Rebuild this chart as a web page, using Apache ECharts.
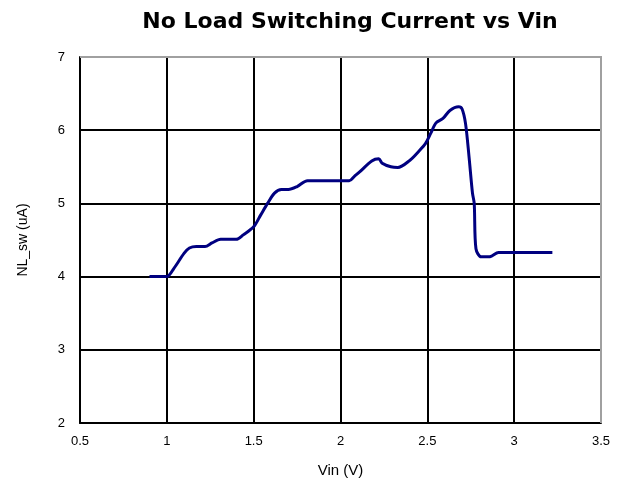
<!DOCTYPE html>
<html>
<head>
<meta charset="utf-8">
<script src="https://cdn.jsdelivr.net/npm/echarts@6/dist/echarts.min.js"></script>
<style>
  html, body { margin: 0; padding: 0; background: #fff; }
  #chart { width: 618px; height: 487px; }
</style>
</head>
<body>
<div id="chart"></div>
<script>
// Vin (V) and no-load switching current (uA)
var vin = [0.90, 1.00, 1.04, 1.10, 1.13, 1.17, 1.22, 1.26, 1.31, 1.40, 1.44, 1.50, 1.54, 1.58, 1.62, 1.66, 1.70, 1.75, 1.81,
  2.05, 2.08, 2.11, 2.18, 2.22, 2.24, 2.29, 2.33, 2.40, 2.45, 2.49, 2.52, 2.55, 2.59, 2.63, 2.68, 2.70, 2.72, 2.74,
  2.76, 2.77, 2.78, 2.81, 2.85, 2.87, 2.91, 3.22]
var current = [4.00, 4.00, 4.11, 4.32, 4.39, 4.41, 4.41, 4.46, 4.51, 4.51, 4.57, 4.68, 4.84, 5.00, 5.14, 5.19, 5.19, 5.23, 5.31,
  5.31, 5.37, 5.43, 5.58, 5.61, 5.55, 5.50, 5.49, 5.59, 5.71, 5.82, 5.96, 6.10, 6.16, 6.27, 6.32, 6.29, 6.09, 5.64,
  5.14, 5.00, 4.38, 4.27, 4.27, 4.28, 4.33, 4.33]

var chart = echarts.init(document.getElementById('chart'))
chart.setOption({
  animation: false,
  title: {
    text: 'No Load Switching Current vs Vin',
    left: 345,
    top: 6,
    textAlign: 'center',
    textStyle: { fontFamily: 'DejaVu Sans', fontWeight: 'bold', fontSize: 22, color: '#000' }
  },
  grid: { left: 80, right: 17, top: 57, bottom: 64 },
  xAxis: {
    type: 'value',
    min: 0.5,
    max: 3.5,
    interval: 0.5,
    name: 'Vin (V)',
    nameLocation: 'middle',
    nameGap: 40,
    nameTextStyle: { fontFamily: 'Liberation Sans', fontSize: 15, color: '#000' },
    axisLine: { lineStyle: { color: '#000', width: 2 } },
    axisTick: { show: false },
    axisLabel: { fontFamily: 'Liberation Sans', fontSize: 13, color: '#000', margin: 12 },
    splitLine: { lineStyle: { color: '#000', width: 2 } }
  },
  yAxis: {
    type: 'value',
    min: 2,
    max: 7,
    interval: 1,
    name: 'NL_sw (uA)',
    nameLocation: 'middle',
    nameGap: 50,
    nameTextStyle: { fontFamily: 'Liberation Sans', fontSize: 14, color: '#000' },
    axisLine: { lineStyle: { color: '#000', width: 2 } },
    axisTick: { show: false },
    axisLabel: { fontFamily: 'Liberation Sans', fontSize: 13, color: '#000', margin: 15 },
    splitLine: { lineStyle: { color: '#000', width: 2 } }
  },
  series: [
    {
      type: 'line',
      data: vin.map(function (v, i) { return [v, current[i]] }),
      showSymbol: false,
      smooth: 0.3,
      lineStyle: { color: '#000080', width: 3 }
    }
  ],
  graphic: [
    // lighter frame edges at top and right like the original plot box
    {
      type: 'polyline',
      shape: { points: [[80, 57], [601, 57], [601, 423]] },
      style: { stroke: '#a0a0a0', lineWidth: 2, fill: null },
      z: 100
    }
  ]
})
</script>
</body>
</html>
